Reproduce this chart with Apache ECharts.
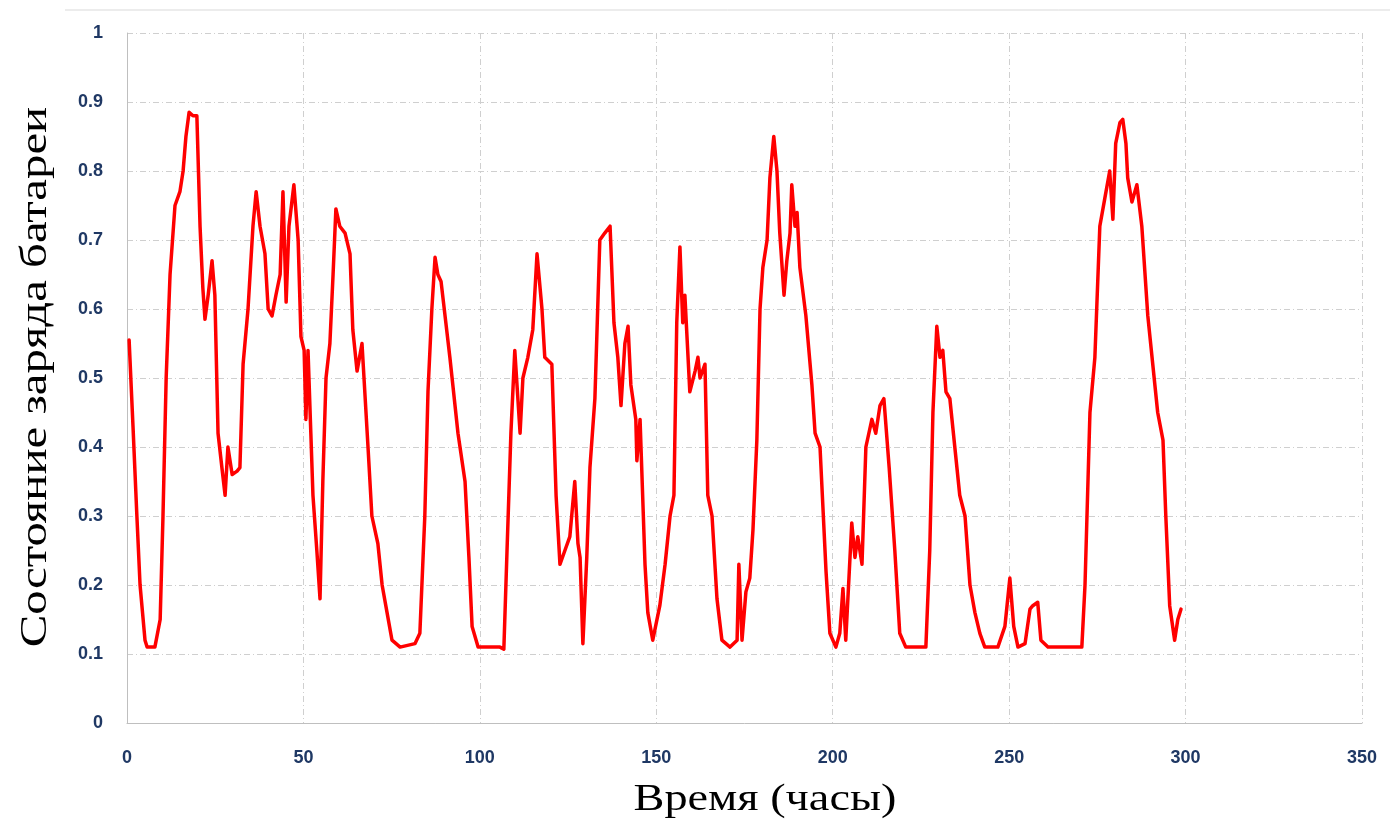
<!DOCTYPE html>
<html><head><meta charset="utf-8">
<script src="https://cdn.jsdelivr.net/npm/echarts@6/dist/echarts.min.js"></script>
<style>html,body{margin:0;padding:0;background:#fff}#c{width:1397px;height:821px}</style>
</head><body><div id="c"></div>
<script>
const xTicks = [0, 50, 100, 150, 200, 250, 300, 350];
const yTicks = [0, 0.1, 0.2, 0.3, 0.4, 0.5, 0.6, 0.7, 0.8, 0.9, 1];
const xAxisTitle = 'Время (часы)';
const yAxisTitle = 'Состояние заряда батареи';
// [hour, state of charge]
const socPoints = [
  [0.6,0.555],[1.7,0.43],[2.8,0.3],[3.7,0.2],[5.1,0.12],[5.7,0.11],[7.9,0.11],[9.4,0.15],[10.2,0.3],[11.1,0.5],
  [12.2,0.65],[13.6,0.75],[15,0.77],[15.9,0.8],[16.7,0.85],[17.6,0.885],[18.7,0.88],[19.8,0.88],[20.7,0.72],[21.5,0.63],
  [22.1,0.585],[23,0.62],[24.1,0.67],[24.9,0.62],[25.8,0.42],[26.9,0.37],[27.8,0.33],[28.6,0.4],[29.8,0.36],[31.2,0.365],
  [32,0.37],[32.9,0.52],[34.3,0.6],[35.7,0.72],[36.6,0.77],[37.7,0.72],[39.1,0.68],[40,0.6],[41.1,0.59],[42.2,0.62],
  [43.4,0.65],[44.2,0.77],[45.1,0.61],[45.9,0.72],[47.3,0.78],[48.5,0.7],[49.3,0.56],[50.2,0.54],[50.7,0.44],[51.3,0.54],
  [52.1,0.42],[52.7,0.33],[53.8,0.25],[54.7,0.18],[55.5,0.35],[56.4,0.5],[57.5,0.55],[58.4,0.65],[59.2,0.745],[60.3,0.72],
  [61.8,0.71],[63.2,0.68],[64,0.57],[65.2,0.51],[66.6,0.55],[68.3,0.4],[69.4,0.3],[71.1,0.26],[72.3,0.2],[73.7,0.16],
  [75.1,0.12],[77.4,0.11],[81.6,0.115],[83,0.13],[84.4,0.3],[85.3,0.48],[86.4,0.6],[87.3,0.675],[88.1,0.65],[89,0.64],
  [91.5,0.53],[93.8,0.42],[95.8,0.35],[96.9,0.24],[97.8,0.14],[99.5,0.11],[105.7,0.11],[106.8,0.107],[107.7,0.25],[108.8,0.42],
  [109.9,0.54],[111.4,0.42],[112.2,0.5],[113.6,0.53],[115,0.57],[116.2,0.68],[117.6,0.6],[118.4,0.53],[120.4,0.52],[121.6,0.33],
  [122.7,0.23],[124.1,0.25],[125.5,0.27],[126.9,0.35],[127.8,0.26],[128.4,0.24],[129.2,0.115],[130.3,0.24],[131.2,0.37],[132.6,0.47],
  [134,0.7],[135.4,0.71],[136.9,0.72],[138,0.58],[139.1,0.53],[140,0.46],[141.1,0.55],[142,0.575],[142.8,0.49],[144.2,0.44],
  [144.5,0.38],[145.4,0.44],[146.8,0.23],[147.6,0.16],[149,0.12],[151,0.17],[152.5,0.23],[153.9,0.3],[155,0.33],[155.8,0.58],
  [156.7,0.69],[157.5,0.58],[158.1,0.62],[159.5,0.48],[161,0.51],[161.8,0.53],[162.4,0.5],[163.8,0.52],[164.6,0.33],[165.8,0.3],
  [167.2,0.18],[168.6,0.12],[170.9,0.11],[172.9,0.12],[173.4,0.23],[174.3,0.12],[175.4,0.19],[176.5,0.21],[177.4,0.28],[178.5,0.41],
  [179.4,0.6],[180.2,0.66],[181.4,0.7],[182.2,0.79],[183.3,0.85],[184.2,0.8],[185,0.71],[186.2,0.62],[187,0.67],[187.9,0.71],
  [188.4,0.78],[189.3,0.72],[189.9,0.74],[190.7,0.66],[192.4,0.59],[194.1,0.49],[195,0.42],[196.4,0.4],[198.1,0.22],[199.2,0.13],
  [200.9,0.11],[202,0.13],[202.9,0.195],[203.7,0.12],[204.6,0.21],[205.4,0.29],[206.3,0.24],[207.1,0.27],[208.3,0.23],[209.4,0.4],
  [211.1,0.44],[212.2,0.42],[213.4,0.46],[214.5,0.47],[216,0.37],[217.6,0.25],[219,0.13],[220.7,0.11],[226.4,0.11],[227.5,0.25],
  [228.4,0.45],[229.5,0.575],[230.4,0.53],[231.2,0.54],[232.1,0.48],[233.2,0.47],[234.6,0.4],[236,0.33],[237.5,0.3],[238.9,0.2],
  [240.3,0.16],[241.7,0.13],[243.1,0.11],[246.8,0.11],[248.8,0.14],[250.2,0.21],[251.3,0.14],[252.5,0.11],[254.5,0.115],[255.9,0.165],
  [256.7,0.17],[258.1,0.175],[259,0.12],[261,0.11],[270.6,0.11],[271.5,0.2],[272.9,0.45],[274.3,0.53],[275.7,0.72],[277.1,0.76],
  [278.5,0.8],[279.4,0.73],[280.2,0.84],[281.4,0.87],[282.2,0.875],[283.1,0.84],[283.6,0.79],[284.8,0.755],[286.2,0.78],[287.6,0.72],
  [289.3,0.59],[290.7,0.52],[292.1,0.45],[293.6,0.41],[294.4,0.3],[295.5,0.17],[296.9,0.12],[297.8,0.15],[298.7,0.165]
];

const chart = echarts.init(document.getElementById('c'), null, {renderer: 'canvas'});
const labelStyle = {color: '#1f3864', fontWeight: 'bold', fontSize: 18, fontFamily: 'Liberation Sans Narrow, Liberation Sans, sans-serif'};
const gridLine = {show: true, lineStyle: {color: '#cfcfcf', type: [6, 3, 1, 3], width: 1}};
chart.setOption({
  animation: false,
  graphic: [
    {type: 'line', shape: {x1: 65, y1: 10, x2: 1390, y2: 10}, style: {stroke: '#d9d9d9', lineWidth: 1}},
    {type: 'text', x: 765, y: 800, scaleX: 1.25,
     style: {text: xAxisTitle, x: 0, y: 0, align: 'center', verticalAlign: 'middle', fontFamily: 'Liberation Serif, serif', fontSize: 37, fill: '#000'}},
    {type: 'text', x: 36, y: 377, rotation: Math.PI / 2, scaleX: 1.32,
     style: {text: yAxisTitle, x: 0, y: 0, align: 'center', verticalAlign: 'middle', fontFamily: 'Liberation Serif, serif', fontSize: 37, fill: '#000'}}
  ],
  grid: {left: 127, right: 35, top: 33, bottom: 98},
  xAxis: {
    type: 'value', min: xTicks[0], max: xTicks[xTicks.length - 1], interval: 50,
    axisLine: {show: true, lineStyle: {color: '#bfbfbf', width: 1}},
    axisTick: {show: false},
    axisLabel: Object.assign({margin: 26}, labelStyle),
    splitLine: gridLine
  },
  yAxis: {
    type: 'value', min: yTicks[0], max: yTicks[yTicks.length - 1], interval: 0.1,
    axisLine: {show: true, lineStyle: {color: '#bfbfbf', width: 1}},
    axisTick: {show: false},
    axisLabel: Object.assign({margin: 24, formatter: v => String(Math.round(v * 10) / 10)}, labelStyle),
    splitLine: gridLine
  },
  series: [{
    type: 'line', data: socPoints,
    showSymbol: false, symbol: 'none',
    lineStyle: {color: '#ff0000', width: 3.5, join: 'round', cap: 'round'}, itemStyle: {color: '#ff0000'}
  }]
});
</script></body></html>
